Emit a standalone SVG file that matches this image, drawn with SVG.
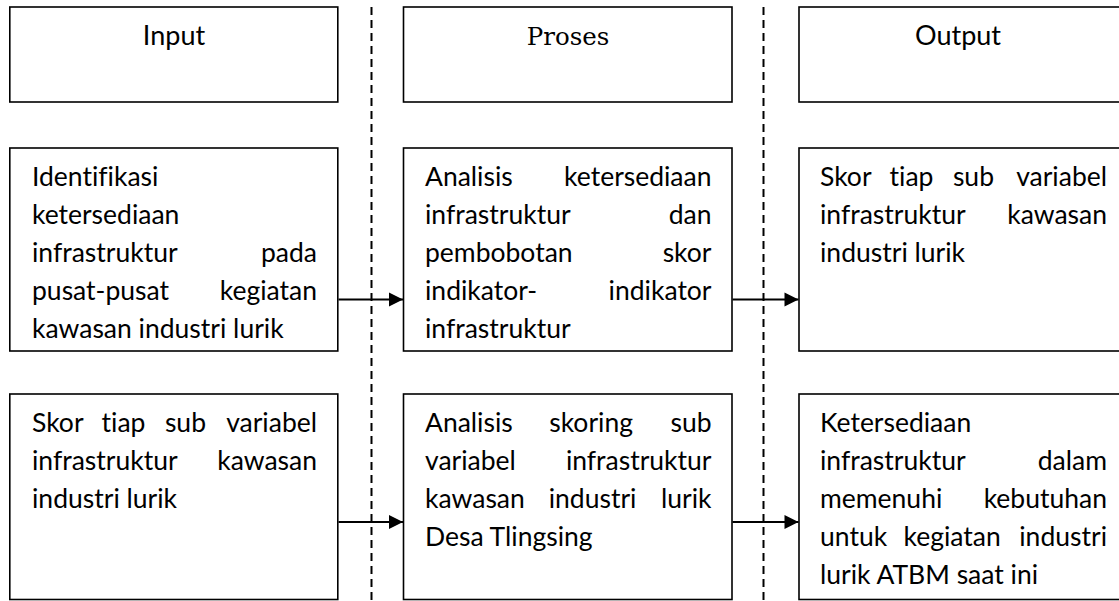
<svg xmlns="http://www.w3.org/2000/svg" width="1119" height="601" viewBox="0 0 1119 601">
<defs>
<style>
.box{fill:#fff;stroke:#000;stroke-width:1.6}
.t{font-family:Lato,"Liberation Sans",sans-serif;font-size:26.5px;fill:#000;font-variant-ligatures:none}
.e{text-anchor:end}
.hs{font-family:"DejaVu Serif","Liberation Serif",serif;font-size:24.5px;fill:#000;text-anchor:middle}
.h{font-family:Lato,"Liberation Sans",sans-serif;font-size:27px;fill:#000;text-anchor:middle}
.dash{stroke:#000;stroke-width:2;stroke-dasharray:8 5;fill:none}
.arr{stroke:#000;stroke-width:2.2;fill:none;marker-end:url(#ah)}
</style>
<marker id="ah" markerUnits="userSpaceOnUse" markerWidth="16" markerHeight="16" viewBox="0 0 16 16" refX="15" refY="8" orient="auto">
<path d="M1,1 L15,8 L1,15 Z" fill="#000"/>
</marker>
</defs>
<rect width="1119" height="601" fill="#fff"/>
<g id="dividers">
<line class="dash" x1="371.5" y1="7" x2="371.5" y2="601"/>
<line class="dash" x1="763.5" y1="7" x2="763.5" y2="601"/>
</g>
<g id="hdr-input">
<rect class="box" x="9.8" y="7" width="328" height="95"/>
<text class="h" x="174" y="45">Input</text>
</g>
<g id="hdr-proses">
<rect class="box" x="403.5" y="7" width="328.5" height="95"/>
<text class="hs" x="568" y="45">Proses</text>
</g>
<g id="hdr-output">
<rect class="box" x="799" y="7" width="340" height="95"/>
<text class="h" x="958" y="45">Output</text>
</g>
<g id="in1">
<rect class="box" x="9.8" y="148" width="328" height="203"/>
<text class="t" x="32" y="186">Identifikasi</text>
<text class="t" x="32" y="224">ketersediaan</text>
<text class="t" x="32" y="262">infrastruktur</text><text class="t e" x="317" y="262">pada</text>
<text class="t" x="32" y="300">pusat-pusat</text><text class="t e" x="317" y="300">kegiatan</text>
<text class="t" x="32" y="338">kawasan industri lurik</text>
</g>
<g id="pr1">
<rect class="box" x="403.5" y="148" width="328.5" height="203"/>
<text class="t" x="425" y="186">Analisis</text><text class="t e" x="711.5" y="186">ketersediaan</text>
<text class="t" x="425" y="224">infrastruktur</text><text class="t e" x="711.5" y="224">dan</text>
<text class="t" x="425" y="262">pembobotan</text><text class="t e" x="711.5" y="262">skor</text>
<text class="t" x="425" y="300">indikator-</text><text class="t e" x="711.5" y="300">indikator</text>
<text class="t" x="425" y="338">infrastruktur</text>
</g>
<g id="out1">
<rect class="box" x="799" y="148" width="340" height="203"/>
<text class="t" x="820" y="186">Skor</text><text class="t" x="889.6" y="186">tiap</text><text class="t" x="952.9" y="186">sub</text><text class="t e" x="1107" y="186">variabel</text>
<text class="t" x="820" y="224">infrastruktur</text><text class="t e" x="1107" y="224">kawasan</text>
<text class="t" x="820" y="262">industri lurik</text>
</g>
<g id="in2">
<rect class="box" x="9.8" y="394" width="328" height="205.5"/>
<text class="t" x="32" y="432">Skor</text><text class="t" x="101.6" y="432">tiap</text><text class="t" x="164.9" y="432">sub</text><text class="t e" x="317" y="432">variabel</text>
<text class="t" x="32" y="470">infrastruktur</text><text class="t e" x="317" y="470">kawasan</text>
<text class="t" x="32" y="508">industri lurik</text>
</g>
<g id="pr2">
<rect class="box" x="403.5" y="394" width="328.5" height="205.5"/>
<text class="t" x="425" y="432">Analisis</text><text class="t" x="549.2" y="432">skoring</text><text class="t e" x="711.5" y="432">sub</text>
<text class="t" x="425" y="470">variabel</text><text class="t e" x="711.5" y="470">infrastruktur</text>
<text class="t" x="425" y="508">kawasan</text><text class="t" x="548.7" y="508">industri</text><text class="t e" x="711.5" y="508">lurik</text>
<text class="t" x="425" y="546">Desa Tlingsing</text>
</g>
<g id="out2">
<rect class="box" x="799" y="394" width="340" height="205.5"/>
<text class="t" x="820" y="432">Ketersediaan</text>
<text class="t" x="820" y="470">infrastruktur</text><text class="t e" x="1107" y="470">dalam</text>
<text class="t" x="820" y="508">memenuhi</text><text class="t e" x="1107" y="508">kebutuhan</text>
<text class="t" x="820" y="546">untuk</text><text class="t" x="903.5" y="546">kegiatan</text><text class="t e" x="1107" y="546">industri</text>
<text class="t" x="820" y="584">lurik ATBM saat ini</text>
</g>
<g id="connectors">
<line class="arr" x1="338.5" y1="299.5" x2="403" y2="299.5"/>
<line class="arr" x1="732.5" y1="299.5" x2="798.5" y2="299.5"/>
<line class="arr" x1="338.5" y1="522" x2="403" y2="522"/>
<line class="arr" x1="732.5" y1="522" x2="798.5" y2="522"/>
</g>
</svg>
